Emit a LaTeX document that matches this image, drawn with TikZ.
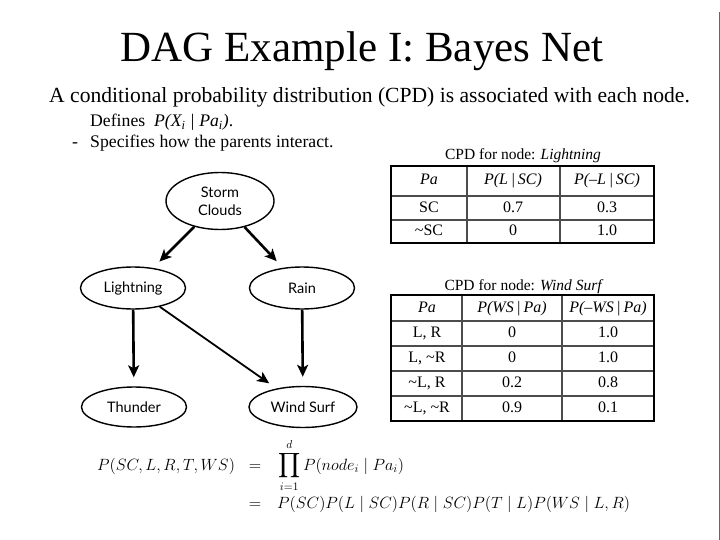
\documentclass[tikz,border=0pt]{standalone}
\usepackage{fix-cm}
\usepackage{amsmath}
\usepackage[no-math]{fontspec}
\setmainfont{Liberation Serif}
\newfontfamily\gillfont{Lato}
\usepackage{xcolor}
\usepackage{tikz}
\usetikzlibrary{arrows.meta, positioning, shapes.geometric}

\begin{document}
\begin{tikzpicture}[x=1pt, y=-1pt,
    var/.style={ellipse, draw, line width=1.4pt, inner sep=0pt, minimum width=105pt, minimum height=42pt,
      align=center, font=\gillfont\fontsize{14.5}{18}\selectfont},
    link/.style={-{Stealth[length=12pt, width=11pt, inset=3pt]}, line width=2.6pt, shorten >=9pt},
    txt/.style={inner sep=0pt},
    headcell/.style={text height=11pt, text depth=3pt, inner sep=0pt, font=\itshape\fontsize{16}{18}\selectfont},
    bodycell/.style={text height=11pt, text depth=3pt, inner sep=0pt, font=\fontsize{16}{18}\selectfont},
    tableframe/.style={line width=2.4pt},
    tablerule/.style={line width=1.1pt, black!70}]
  \useasboundingbox (0,0) rectangle (720,540);

  % heading and text
  \node[txt, anchor=base, font=\fontsize{43}{48}\selectfont] (title) at (362,62) {DAG Example I: Bayes Net};
  \node[txt, anchor=base west, font=\fontsize{21.6}{24}\selectfont] (intro) at (49,103)
    {A conditional probability distribution (CPD) is associated with each node.};
  \node[txt, anchor=base west, font=\fontsize{17.7}{20}\selectfont] (defines) at (90,127)
    {Defines\ \ {\itshape P(X\textsubscript{i} | Pa\textsubscript{i})}.};
  \node[txt, anchor=base west, font=\fontsize{17.7}{20}\selectfont] (dash) at (72,148) {-};
  \node[txt, anchor=base west, font=\fontsize{17.7}{20}\selectfont] (specifies) at (90,148)
    {Specifies how the parents interact.};

  % the network
  \node[var, minimum width=108pt, minimum height=57pt] (storm) at (220,201) {Storm\\Clouds};
  \node[var] (lightning) at (133,288) {Lightning};
  \node[var] (rain) at (302,288) {Rain};
  \node[var, minimum height=40pt] (thunder) at (134,407) {Thunder};
  \node[var, minimum width=108pt, minimum height=41pt] (surf) at (303,407) {Wind Surf};

  \draw[link] (storm) -- (lightning);
  \draw[link] (storm) -- (rain);
  \draw[link] (lightning) -- (thunder);
  \draw[link, line width=1.8pt] (lightning) -- (surf);
  \draw[link] (rain) -- (surf);

  % CPD for Lightning
  \node[txt, anchor=base, font=\fontsize{15.5}{18}\selectfont] (lcap) at (523,160) {CPD for node: \textit{Lightning}};
  \draw[tablerule, line width=1.8pt] (391,196) -- (654,196);
  \draw[tablerule] (391,220) -- (654,220);
  \draw[tablerule] (467,166) -- (467,243);
  \draw[tablerule] (560,166) -- (560,243);
  \draw[tableframe] (391,166) rectangle (654,243);
  \node[headcell] (lpa) at (429,181) {Pa};
  \node[headcell] (lyes) at (513,181) {P(L\,|\,SC)};
  \node[headcell] (lno) at (607,181) {P(--L\,|\,SC)};
  \node[bodycell] (lsc) at (429,208) {SC};
  \node[bodycell] (lscyes) at (513,208) {0.7};
  \node[bodycell] (lscno) at (607,208) {0.3};
  \node[bodycell] (lnsc) at (429,232) {\textasciitilde SC};
  \node[bodycell] (lnscyes) at (513,232) {0};
  \node[bodycell] (lnscno) at (607,232) {1.0};

  % CPD for Wind Surf
  \node[txt, anchor=base, font=\fontsize{15.5}{18}\selectfont] (wcap) at (524,290) {CPD for node: \textit{Wind Surf}};
  \draw[tablerule, line width=1.8pt] (391,321) -- (654,321);
  \draw[tablerule] (391,346) -- (654,346);
  \draw[tablerule] (391,371) -- (654,371);
  \draw[tablerule] (391,396) -- (654,396);
  \draw[tablerule] (462,295) -- (462,421);
  \draw[tablerule] (562,295) -- (562,421);
  \draw[tableframe] (391,295) rectangle (654,421);
  \node[headcell] (wpa) at (427,308) {Pa};
  \node[headcell] (wyes) at (512,308) {P(WS\,|\,Pa)};
  \node[headcell] (wno) at (608,308) {P(--WS\,|\,Pa)};
  \node[bodycell] (wlr) at (427,333) {L, R};
  \node[bodycell] (wlryes) at (512,333) {0};
  \node[bodycell] (wlrno) at (608,333) {1.0};
  \node[bodycell] (wlnr) at (427,358) {L, \textasciitilde R};
  \node[bodycell] (wlnryes) at (512,358) {0};
  \node[bodycell] (wlnrno) at (608,358) {1.0};
  \node[bodycell] (wnlr) at (427,383) {\textasciitilde L, R};
  \node[bodycell] (wnlryes) at (512,383) {0.2};
  \node[bodycell] (wnlrno) at (608,383) {0.8};
  \node[bodycell] (wnlnr) at (427,408) {\textasciitilde L, \textasciitilde R};
  \node[bodycell] (wnlnryes) at (512,408) {0.9};
  \node[bodycell] (wnlnrno) at (608,408) {0.1};

  % joint distribution
  \node[txt, anchor=base west, font=\fontsize{16.3}{20}\selectfont] (lhs) at (97,470) {$P(SC, L, R, T, WS)$};
  \node[txt, anchor=base, font=\fontsize{16.3}{20}\selectfont] (eqa) at (255,470) {$=$};
  \node[txt, anchor=base west, font=\fontsize{16.3}{20}\selectfont] (prod) at (278,470)
    {$\displaystyle\prod_{i=1}^{d} P(node_i \mid Pa_i)$};
  \node[txt, anchor=base, font=\fontsize{16.3}{20}\selectfont] (eqb) at (255,508) {$=$};
  \node[txt, anchor=base west, font=\fontsize{16.3}{20}\selectfont] (rhs) at (277,508)
    {$P(SC)P(L \mid SC)P(R \mid SC)P(T \mid L)P(WS \mid L, R)$};

  \draw[black!60, line width=0.8pt] (719,12) -- (719,540);
\end{tikzpicture}
\end{document}
